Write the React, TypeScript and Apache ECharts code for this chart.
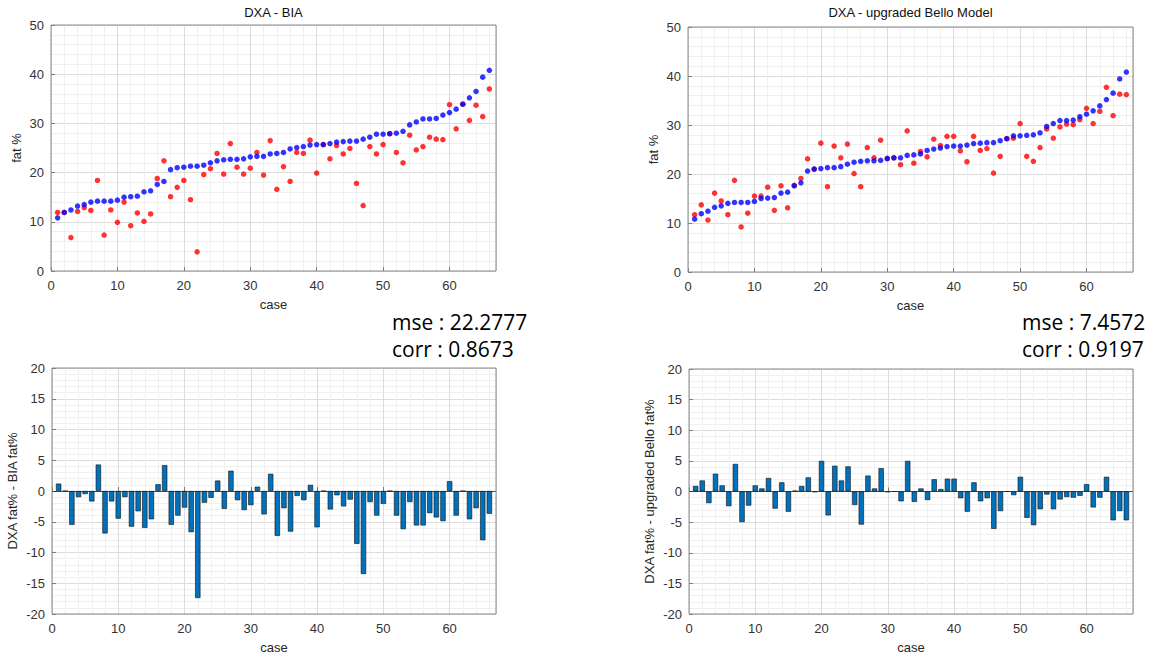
import React, { useEffect, useRef } from "react";
import * as echarts from "echarts";

// DXA reference fat % (sorted ascending), case 1..66
const dxaFat = [
  10.8, 11.9, 12.4, 13.2, 13.5, 14.0, 14.2, 14.2, 14.2, 14.4,
  15.0, 15.1, 15.2, 16.1, 16.3, 17.6, 18.2, 20.6, 21.0, 21.1,
  21.3, 21.3, 21.5, 22.0, 22.4, 22.6, 22.7, 22.7, 22.8, 23.2,
  23.3, 23.3, 23.8, 23.9, 24.1, 24.8, 25.1, 25.3, 25.6, 25.7,
  25.7, 25.9, 26.2, 26.3, 26.4, 26.4, 26.8, 27.2, 27.8, 27.8,
  27.9, 28.0, 28.4, 29.7, 30.3, 30.9, 30.9, 31.0, 31.7, 32.2,
  32.9, 33.9, 35.2, 36.5, 39.4, 40.8,
];

// BIA fat %
const biaFat = [
  11.9, 11.9, 6.8, 12.1, 12.9, 12.3, 18.4, 7.3, 12.4, 9.9,
  14.0, 9.2, 11.8, 10.1, 11.6, 18.8, 22.4, 15.1, 17.0, 18.4,
  14.5, 3.9, 19.6, 20.8, 23.9, 19.7, 25.9, 21.1, 19.7, 20.9,
  24.1, 19.5, 26.5, 16.6, 21.2, 18.2, 24.1, 23.9, 26.6, 19.9,
  25.7, 22.8, 25.5, 23.8, 24.9, 17.8, 13.3, 25.3, 23.8, 25.7,
  27.9, 24.1, 22.0, 27.6, 24.6, 25.3, 27.2, 26.8, 26.7, 33.8,
  28.9, 33.9, 30.6, 33.7, 31.4, 37.0,
];

// upgraded Bello model fat %
const belloFat = [
  11.7, 13.7, 10.6, 16.1, 14.5, 11.7, 18.7, 9.2, 12.0, 15.5,
  15.5, 17.3, 12.6, 17.6, 13.1, 17.7, 19.1, 23.1, 21.0, 26.3,
  17.4, 25.7, 23.3, 26.1, 20.1, 17.4, 25.4, 23.3, 26.9, 23.1,
  23.3, 21.9, 28.8, 22.2, 24.6, 23.5, 27.1, 25.8, 27.7, 27.7,
  24.7, 22.5, 27.7, 24.8, 25.2, 20.2, 23.6, 27.2, 27.3, 30.3,
  23.6, 22.6, 25.4, 29.2, 27.3, 29.6, 30.2, 30.1, 31.1, 33.4,
  30.3, 32.8, 37.7, 31.9, 36.3, 36.2,
];

// difference bars (as plotted)
const diffBia = [
  1.2, 0, -5.5, -1.0, -0.5, -1.7, 4.3, -6.9, -1.7, -4.5,
  -1.0, -5.8, -3.3, -6.0, -4.6, 1.1, 4.2, -5.5, -4.0, -2.7,
  -6.7, -17.4, -1.9, -1.1, 1.7, -2.9, 3.3, -1.5, -3.1, -2.3,
  0.7, -3.8, 2.8, -7.3, -2.8, -6.6, -0.8, -1.5, 1.0, -5.9,
  0, -3.0, -0.7, -2.5, -1.4, -8.6, -13.5, -1.8, -4.0, -2.1,
  0, -4.0, -6.2, -1.8, -5.6, -5.6, -3.6, -4.3, -4.9, 1.6,
  -4.0, 0, -4.6, -2.8, -8.0, -3.7,
];

const diffBello = [
  0.9, 1.8, -1.9, 2.9, 1.0, -2.4, 4.5, -5.0, -2.3, 1.0,
  0.5, 2.2, -2.8, 1.5, -3.3, 0.15, 0.9, 2.3, -0.1, 5.0,
  -3.9, 4.2, 1.8, 4.1, -2.2, -5.4, 2.6, 0.5, 3.8, -0.1,
  0, -1.6, 5.0, -1.7, 0.5, -1.4, 2.0, 0.4, 2.1, 2.1,
  -1.1, -3.3, 1.5, -1.6, -1.1, -6.1, -3.2, 0, -0.6, 2.4,
  -4.3, -5.5, -2.9, -0.5, -2.9, -1.3, -0.9, -1.0, -0.7, 1.2,
  -2.6, -1.0, 2.4, -4.7, -3.2, -4.7,
];

const titles = ["DXA - BIA", "DXA - upgraded Bello Model"];
const statsLeft = ["mse : 22.2777", "corr : 0.8673"];
const statsRight = ["mse : 7.4572", "corr : 0.9197"];
const yNames = ["fat %", "fat %", "DXA fat% - BIA fat%", "DXA fat% - upgraded Bello fat%"];

const pairs = (arr: number[]) => arr.map((v, i) => [i + 1, v]);

const FONT = "'Liberation Sans', Arial, sans-serif";

const grids = [
  { left: 51, top: 25, width: 445, height: 246 },
  { left: 688, top: 27, width: 445, height: 245 },
  { left: 52, top: 368, width: 444, height: 246 },
  { left: 689, top: 369, width: 444, height: 245 },
];

function makeX(i: number) {
  return {
    type: "value",
    gridIndex: i,
    min: 0,
    max: 67,
    interval: 10,
    axisLine: { show: false },
    axisTick: { show: true, inside: true, length: 4, lineStyle: { color: "#7a7a7a" } },
    axisLabel: { color: "#333", fontSize: 13, fontFamily: FONT, margin: 8, showMaxLabel: false },
    splitLine: { show: true, lineStyle: { color: "#dcdcdc", width: 1 } },
    minorTick: { show: false, splitNumber: 5 },
    minorSplitLine: { show: true, lineStyle: { color: "#f0f0f0", width: 1 } },
    name: "case",
    nameLocation: "middle",
    nameGap: 27,
    nameTextStyle: { color: "#262626", fontSize: 13, fontFamily: FONT },
  };
}

function makeY(i: number) {
  const top = i < 2;
  return {
    type: "value",
    gridIndex: i,
    min: top ? 0 : -20,
    max: top ? 50 : 20,
    interval: top ? 10 : 5,
    axisLine: { show: false },
    axisTick: { show: true, inside: true, length: 4, lineStyle: { color: "#7a7a7a" } },
    axisLabel: { color: "#333", fontSize: 13, fontFamily: FONT, margin: 7 },
    splitLine: { show: true, lineStyle: { color: "#dcdcdc", width: 1 } },
    minorTick: { show: false, splitNumber: top ? 5 : 5 },
    minorSplitLine: { show: true, lineStyle: { color: "#f0f0f0", width: 1 } },
    name: yNames[i],
    nameLocation: "middle",
    nameGap: top ? 28 : 33,
    nameTextStyle: { color: "#262626", fontSize: 13, fontFamily: FONT },
  };
}

function scatter(data: number[], idx: number, color: string) {
  return {
    type: "scatter",
    xAxisIndex: idx,
    yAxisIndex: idx,
    data: pairs(data),
    symbol: "circle",
    symbolSize: 5.5,
    itemStyle: { color },
    silent: true,
  };
}

function bars(data: number[], idx: number) {
  return {
    type: "bar",
    xAxisIndex: idx,
    yAxisIndex: idx,
    data: pairs(data),
    barWidth: 5.3,
    itemStyle: { color: "#0072BD", borderColor: "#111", borderWidth: 0.6 },
    silent: true,
    markLine: {
      silent: true,
      symbol: "none",
      label: { show: false },
      lineStyle: { color: "#262626", width: 0.8, type: "solid" },
      data: [{ yAxis: 0 }],
    },
  };
}

export default function App() {
  const ref = useRef<HTMLDivElement>(null);
  useEffect(() => {
    if (!ref.current) return;
    const chart = echarts.init(ref.current, undefined, { renderer: "svg" });
    const borders = grids.map((g) => ({
      type: "rect",
      shape: { x: g.left, y: g.top, width: g.width, height: g.height },
      style: { fill: "none", stroke: "#8a8a8a", lineWidth: 1 },
      z: 100,
      silent: true,
    }));
    const statText = (lines: string[], x: number) =>
      lines.map((t, k) => ({
        type: "text",
        x,
        y: 322 + k * 27,
        z: 100,
        style: {
          text: t,
          fontSize: 21,
          fontFamily: "'Open Sans', 'Noto Sans', sans-serif",
          fill: "#000",
          align: "left",
          verticalAlign: "middle",
        },
      }));
    chart.setOption({
      animation: false,
      backgroundColor: "#fff",
      grid: grids.map((g) => ({ ...g, show: true, backgroundColor: "#fff", borderWidth: 0, containLabel: false })),
      xAxis: [0, 1, 2, 3].map(makeX),
      yAxis: [0, 1, 2, 3].map(makeY),
      series: [
        scatter(biaFat, 0, "#ff0000"),
        scatter(dxaFat, 0, "#0000ff"),
        scatter(belloFat, 1, "#ff0000"),
        scatter(dxaFat, 1, "#0000ff"),
        bars(diffBia, 2),
        bars(diffBello, 3),
      ],
      graphic: [
        ...borders,
        {
          type: "text",
          x: 273.5,
          y: 12,
          style: { text: titles[0], fontSize: 13, fontFamily: FONT, fill: "#111", align: "center", verticalAlign: "middle" },
        },
        {
          type: "text",
          x: 910.5,
          y: 12,
          style: { text: titles[1], fontSize: 13, fontFamily: FONT, fill: "#111", align: "center", verticalAlign: "middle" },
        },
        ...statText(statsLeft, 392),
        ...statText(statsRight, 1022),
      ],
    });
    return () => chart.dispose();
  }, []);
  return (
    <div
      ref={ref}
      style={{ position: "absolute", left: 0, top: 0, width: 1171, height: 658, background: "#fff" }}
    />
  );
}
